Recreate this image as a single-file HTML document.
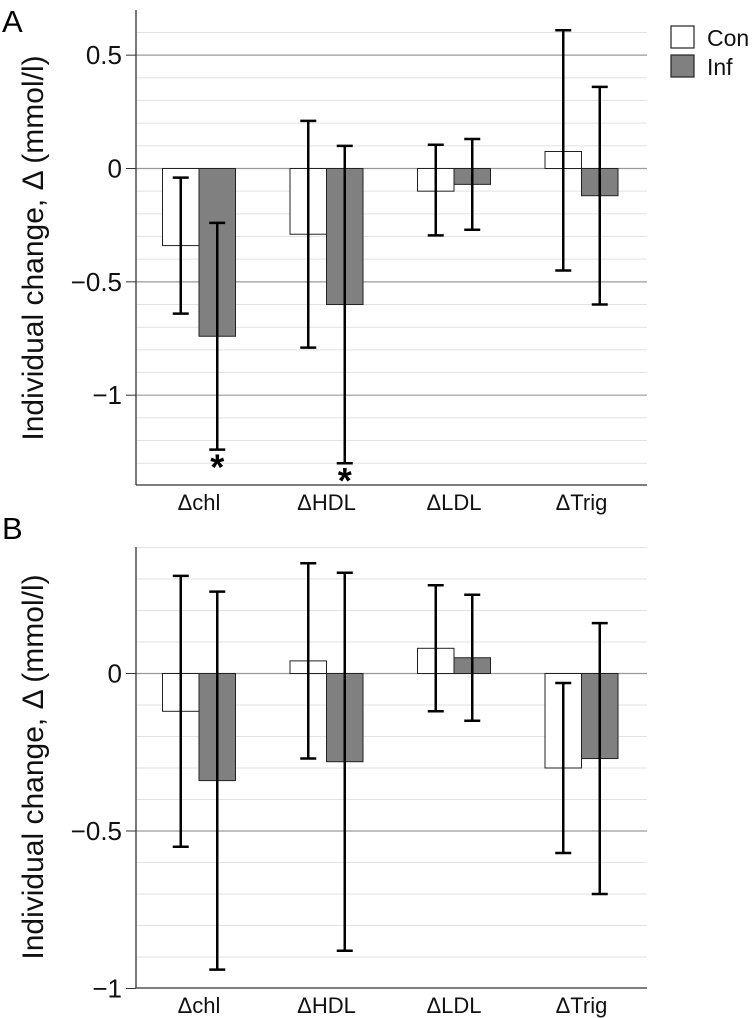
<!DOCTYPE html>
<html><head><meta charset="utf-8"><style>
html,body{margin:0;padding:0;background:#fff;}
svg{display:block;font-family:"Liberation Sans",Arial,sans-serif;}
</style></head><body>
<svg id="chart" width="753" height="1018" viewBox="0 0 753 1018"></svg>
<script>
const categories = ["\u0394chl","\u0394HDL","\u0394LDL","\u0394Trig"];
const aCon = [-0.34,-0.29,-0.10,0.075];
const aConLo = [-0.64,-0.79,-0.295,-0.45];
const aConHi = [-0.04,0.21,0.105,0.61];
const aInf = [-0.74,-0.60,-0.07,-0.12];
const aInfLo = [-1.24,-1.30,-0.27,-0.60];
const aInfHi = [-0.24,0.10,0.13,0.36];
const aStars = [1,1,0,0];
const aTickLabels = ["0.5","0","\u22120.5","\u22121"];
const aTickValues = [0.5,0,-0.5,-1];
const bCon = [-0.12,0.04,0.08,-0.30];
const bConLo = [-0.55,-0.27,-0.12,-0.57];
const bConHi = [0.31,0.35,0.28,-0.03];
const bInf = [-0.34,-0.28,0.05,-0.27];
const bInfLo = [-0.94,-0.88,-0.15,-0.70];
const bInfHi = [0.26,0.32,0.25,0.16];
const bTickLabels = ["0","\u22120.5","\u22121"];
const bTickValues = [0,-0.5,-1];

const svg = document.getElementById('chart');
const NS = 'http://www.w3.org/2000/svg';
function mk(tag, attrs, parent){
  const e = document.createElementNS(NS, tag);
  for (const k in attrs) e.setAttribute(k, attrs[k]);
  (parent||svg).appendChild(e);
  return e;
}

function panel(cfg){
  const g = mk('g', {});
  
  
  const y = v => cfg.y0 - v * cfg.scale;
  const xL = 136, xR = 647;
  const groupX = i => 199 + i * 127.5;
  for (let v = cfg.gMin; v <= cfg.gMax + 1e-9; v += 0.1) {
    const vv = Math.round(v*10)/10;
    const major = Math.abs(vv*2 - Math.round(vv*2)) < 1e-6;
    const l = mk('line', {x1:xL, x2:xR, y1:y(vv), y2:y(vv), stroke: major ? '#9a9a9a' : '#e2e2e2', 'stroke-width': major ? 1.2 : 1}, g);
    
    
  }
  cfg.tickValues.forEach((v, i) => {
    const t = mk('text', {x:122, y:y(v)+9, 'text-anchor':'end', 'font-size':26, fill:'#111'}, g);
    t.textContent = cfg.tickLabels[i];
    
    
    const tk = mk('line', {x1:126, x2:xL, y1:y(v), y2:y(v), stroke:'#333', 'stroke-width':1}, g);
    
    
  });
  const bw = 36.5;
  categories.forEach((c, i) => {
    const cx = groupX(i);
    [[cfg.con, cfg.conLo, cfg.conHi, '#ffffff', cx - bw, 'con'], [cfg.inf, cfg.infLo, cfg.infHi, '#808080', cx, 'inf']].forEach(s => {
      const v = s[0][i];
      const top = Math.min(y(0), y(v)), h = Math.abs(y(v) - y(0));
      const r = mk('rect', {x:s[4], y:top, width:bw, height:h, fill:s[3], stroke:'#222', 'stroke-width':1}, g);
      
      
      const ex = s[4] + bw/2;
      const eg = mk('g', {stroke:'#000', 'stroke-width':2.5}, g);
      
      
      mk('line', {x1:ex, x2:ex, y1:y(s[2][i]), y2:y(s[1][i])}, eg);
      mk('line', {x1:ex-8, x2:ex+8, y1:y(s[2][i]), y2:y(s[2][i])}, eg);
      mk('line', {x1:ex-8, x2:ex+8, y1:y(s[1][i]), y2:y(s[1][i])}, eg);
      if (s[5]==='inf' && cfg.stars && cfg.stars[i]) {
        const st = mk('text', {x:ex, y:y(s[1][i])+30, 'text-anchor':'middle', 'font-size':36, 'font-weight':'bold', fill:'#000'}, g);
        st.textContent = '*';
        
        
      }
    });
    const xl = mk('text', {x:cx, y:cfg.axisBottom+25, 'text-anchor':'middle', 'font-size':22, fill:'#111'}, g);
    xl.textContent = c;
    
    
  });
  const ya = mk('line', {x1:xL, x2:xL, y1:cfg.axisTop, y2:cfg.axisBottom, stroke:'#333', 'stroke-width':1.3}, g);
  
  
  const xa = mk('line', {x1:xL, x2:xR, y1:cfg.axisBottom, y2:cfg.axisBottom, stroke:'#333', 'stroke-width':1.3}, g);
  
  
  const tt = mk('text', {x:0, y:0, 'text-anchor':'middle', 'font-size':30, fill:'#111', transform:'translate(43,' + cfg.titleY + ') rotate(-90)'}, g);
  tt.textContent = 'Individual change, \u0394 (mmol/l)';
  
  
  const pl = mk('text', {x:2, y:cfg.letterY, 'font-size':31, fill:'#000'}, g);
  pl.textContent = cfg.letter;
  
  
}

panel({name:'panel-a', letter:'A', letterY:32, y0:168.5, scale:226.7, gMin:-1.3, gMax:0.6, axisTop:10, axisBottom:485, titleY:248,
  tickLabels:aTickLabels, tickValues:aTickValues, con:aCon, conLo:aConLo, conHi:aConHi, inf:aInf, infLo:aInfLo, infHi:aInfHi, stars:aStars});
panel({name:'panel-b', letter:'B', letterY:539, y0:673.5, scale:315, gMin:-0.9, gMax:0.4, axisTop:547, axisBottom:988, titleY:767,
  tickLabels:bTickLabels, tickValues:bTickValues, con:bCon, conLo:bConLo, conHi:bConHi, inf:bInf, infLo:bInfLo, infHi:bInfHi, stars:null});

const lg = mk('g', {});


[['Con','#ffffff',26],['Inf','#808080',55]].forEach(d => {
  const e = mk('g', {}, lg);
  
  
  mk('rect', {x:671, y:d[2], width:23, height:22, fill:d[1], stroke:'#222', 'stroke-width':1.2}, e);
  const t = mk('text', {x:707, y:d[2]+20, 'font-size':23, fill:'#111'}, e);
  t.textContent = d[0];
});
</script>
</body></html>
